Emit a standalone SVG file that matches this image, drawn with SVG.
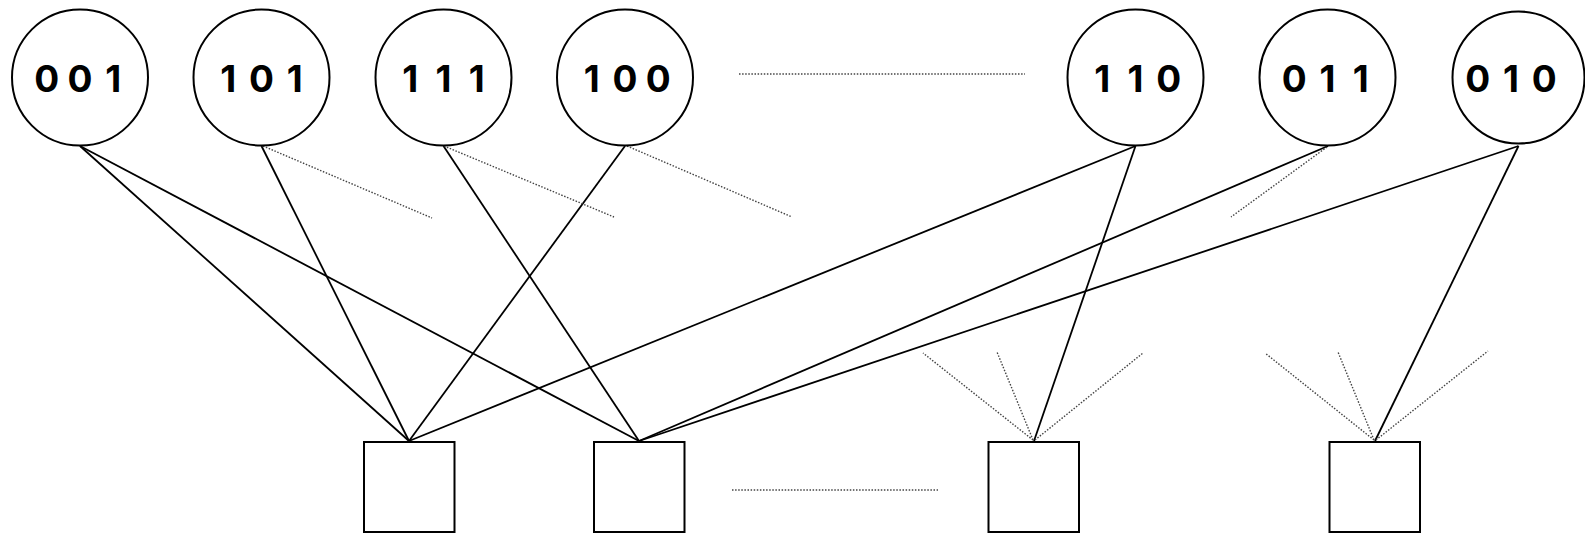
<svg xmlns="http://www.w3.org/2000/svg" width="1585" height="533" viewBox="0 0 1585 533">
  <style>
    .code { fill: #fff; stroke: #000; stroke-width: 2; }
    .check { fill: #fff; stroke: #000; stroke-width: 2; }
    .lbl { font-family: Inter, "Noto Sans", "DejaVu Sans", sans-serif; font-weight: bold; font-size: 37px; fill: #000; text-anchor: middle; }
    .edge { stroke: #000; stroke-width: 1.8; fill: none; }
    .more { stroke: #444; stroke-width: 1.4; stroke-dasharray: 1.5 1.6; fill: none; }
  </style>
  <rect width="1585" height="533" fill="#fff"/>

  <!-- connectors -->
  <g id="connectors">
    <!-- solid edges: code node bottom -> check node top -->
    <line class="edge" x1="80" y1="146" x2="409" y2="441"/>
    <line class="edge" x1="80" y1="146" x2="639" y2="441"/>
    <line class="edge" x1="261.5" y1="146" x2="409" y2="441"/>
    <line class="edge" x1="443.5" y1="146" x2="639" y2="441"/>
    <line class="edge" x1="625" y1="146" x2="409" y2="441"/>
    <line class="edge" x1="1135.5" y1="146" x2="409" y2="441"/>
    <line class="edge" x1="1135.5" y1="146" x2="1034" y2="441"/>
    <line class="edge" x1="1328" y1="146" x2="639" y2="441"/>
    <line class="edge" x1="1518.5" y1="146" x2="639" y2="441"/>
    <line class="edge" x1="1518.5" y1="146" x2="1375" y2="441"/>

    <!-- dotted: continuation hints -->
    <line class="more" x1="739" y1="74" x2="1025" y2="74"/>
    <line class="more" x1="732" y1="490" x2="938" y2="490"/>
    <line class="more" x1="263" y1="146" x2="432" y2="218"/>
    <line class="more" x1="444" y1="146" x2="614" y2="217"/>
    <line class="more" x1="627" y1="146" x2="792" y2="217"/>
    <line class="more" x1="1327" y1="147" x2="1231" y2="217"/>
    <line class="more" x1="1033" y1="440" x2="923" y2="353"/>
    <line class="more" x1="1033" y1="440" x2="997" y2="352"/>
    <line class="more" x1="1035" y1="440" x2="1143" y2="353"/>
    <line class="more" x1="1374" y1="440" x2="1265" y2="353"/>
    <line class="more" x1="1374" y1="440" x2="1338" y2="352"/>
    <line class="more" x1="1376" y1="440" x2="1488" y2="351"/>
  </g>

  <!-- code nodes: each bit placed on a fixed 33.3px pitch -->
  <g id="n001"><circle class="code" cx="80" cy="77.5" r="68"/>
    <text class="lbl" y="91.5"><tspan x="46.7">0</tspan><tspan x="80">0</tspan><tspan x="113.3">1</tspan></text></g>
  <g id="n101"><circle class="code" cx="261.5" cy="77.5" r="68"/>
    <text class="lbl" y="91.5"><tspan x="228.2">1</tspan><tspan x="261.5">0</tspan><tspan x="294.8">1</tspan></text></g>
  <g id="n111"><circle class="code" cx="443.5" cy="77.5" r="68"/>
    <text class="lbl" y="91.5"><tspan x="410.2">1</tspan><tspan x="443.5">1</tspan><tspan x="476.8">1</tspan></text></g>
  <g id="n100"><circle class="code" cx="625" cy="77.5" r="68"/>
    <text class="lbl" y="91.5"><tspan x="591.7">1</tspan><tspan x="625">0</tspan><tspan x="658.3">0</tspan></text></g>
  <g id="n110"><circle class="code" cx="1135.5" cy="77.5" r="68"/>
    <text class="lbl" y="91.5"><tspan x="1102.2">1</tspan><tspan x="1135.5">1</tspan><tspan x="1168.8">0</tspan></text></g>
  <g id="n011"><circle class="code" cx="1327.5" cy="77.5" r="68"/>
    <text class="lbl" y="91.5"><tspan x="1294.2">0</tspan><tspan x="1327.5">1</tspan><tspan x="1360.8">1</tspan></text></g>
  <g id="n010"><circle class="code" cx="1518.5" cy="77.5" r="66"/>
    <text class="lbl" y="91.5"><tspan x="1477.7">0</tspan><tspan x="1511">1</tspan><tspan x="1544.3">0</tspan></text></g>

  <!-- check nodes -->
  <g id="c1"><rect class="check" x="364" y="442" width="90.5" height="90"/></g>
  <g id="c2"><rect class="check" x="594" y="442" width="90.5" height="90"/></g>
  <g id="c3"><rect class="check" x="988.5" y="442" width="90.5" height="90"/></g>
  <g id="c4"><rect class="check" x="1329.5" y="442" width="90.5" height="90"/></g>
</svg>
